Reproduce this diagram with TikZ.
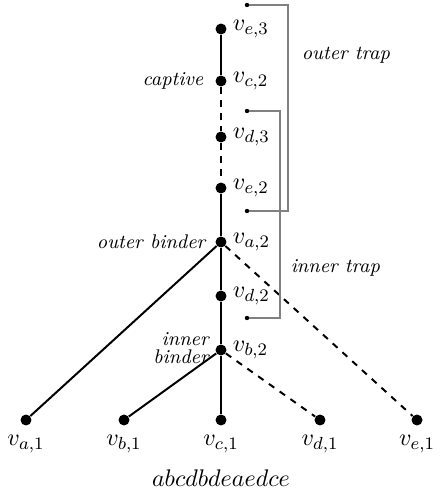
\documentclass[tikz,border=0pt]{standalone}
\usepackage{amsmath}
\usetikzlibrary{positioning}
\tikzset{
  dot/.style={circle, fill=black, inner sep=0pt, minimum size=5pt},
  tip/.style={circle, fill=black, inner sep=0pt, minimum size=2pt},
  edge/.style={line width=0.9pt},
  hidden/.style={edge, dashed},
  trap/.style={gray, line width=0.5pt},
  lab/.style={inner sep=2.5pt, font=\fontsize{11}{13}\selectfont},
  leaf/.style={lab, label distance=1.5pt},
  note/.style={font=\small\itshape}
}
\begin{document}
\begin{tikzpicture}[x=0.016cm, y=-0.016cm]
  \useasboundingbox (0,0) rectangle (440,494);
  % spine
  \node[dot, label={[lab]right:$v_{e,3}$}] (ve3) at (221,29) {};
  \node[dot, label={[lab]right:$v_{c,2}$}] (vc2) at (221,81) {};
  \node[dot, label={[lab]right:$v_{d,3}$}] (vd3) at (221,137) {};
  \node[dot, label={[lab]right:$v_{e,2}$}] (ve2) at (221,188) {};
  \node[dot, label={[lab]right:$v_{a,2}$}] (va2) at (221,242) {};
  \node[dot, label={[lab]right:$v_{d,2}$}] (vd2) at (221,296) {};
  \node[dot, label={[lab]right:$v_{b,2}$}] (vb2) at (221,350) {};
  % leaves
  \node[dot, label={[leaf]below:$v_{a,1}$}] (va1) at (26,420) {};
  \node[dot, label={[leaf]below:$v_{b,1}$}] (vb1) at (124,420) {};
  \node[dot, label={[leaf]below:$v_{c,1}$}] (vc1) at (221,420) {};
  \node[dot, label={[leaf]below:$v_{d,1}$}] (vd1) at (320,420) {};
  \node[dot, label={[leaf]below:$v_{e,1}$}] (ve1) at (417,420) {};
  % edges
  \draw[edge] (ve3) -- (vc2);
  \draw[hidden] (vc2) -- (vd3);
  \draw[hidden] (vd3) -- (ve2);
  \draw[edge] (ve2) -- (va2) -- (vd2) -- (vb2) -- (vc1);
  \draw[edge] (va2) -- (va1);
  \draw[hidden] (va2) -- (ve1);
  \draw[edge] (vb2) -- (vb1);
  \draw[hidden] (vb2) -- (vd1);
  % traps
  \draw[trap] (247,5) -| (288,211) -- (247,211);
  \draw[trap] (247,111) -| (280,318) -- (247,318);
  \node[tip] (ot1) at (247,5) {};
  \node[tip] (ot2) at (247,211) {};
  \node[tip] (it1) at (247,111) {};
  \node[tip] (it2) at (247,318) {};
  \node[note, anchor=west] (outer) at (294,55) {outer trap};
  \node[note, anchor=west] (inner) at (283,268) {inner trap};
  % roles
  \node[note, anchor=east] (captive) at (211,81) {captive};
  \node[note, anchor=east] (obinder) at (213,242) {outer binder};
  \node[note, anchor=east, align=right, inner sep=0pt] (ibinder) at (209,348) {inner\\[-3pt]binder};
  % word
  \node[font=\fontsize{11}{13}\selectfont] (word) at (221,478) {$abcdbdeaedce$};
\end{tikzpicture}
\end{document}
